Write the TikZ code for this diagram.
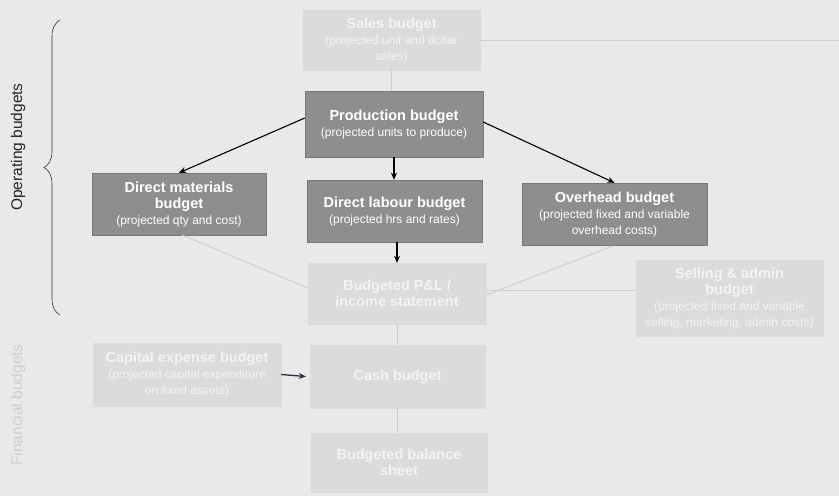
\documentclass[tikz,border=0pt]{standalone}
\usepackage{fontspec}
\setmainfont{Liberation Sans}
\usetikzlibrary{decorations.pathreplacing,arrows.meta}
\definecolor{bg}{HTML}{E9E9E9}
\definecolor{darkbox}{HTML}{8E8E8E}
\definecolor{fadebox}{HTML}{DBDBDB}
\definecolor{fadetext}{HTML}{F3F3F3}
\definecolor{fadeline}{HTML}{CFCFCF}
\definecolor{arrowblue}{HTML}{2A2F4A}
\tikzset{
  darkbb/.style={draw=darkbox!85!black, line width=0.4pt, fill=darkbox, text=white, align=center, inner sep=2pt, font=\fontsize{12}{16}\selectfont},
  fadebb/.style={draw=fadebox, fill=fadebox, text=fadetext, align=center, inner sep=2pt, font=\fontsize{12}{16}\selectfont},
  darrow/.style={-{Stealth[length=7pt,width=6pt]}, line width=1.1pt, black},
  fline/.style={draw=fadeline, line width=1pt},
}
\newcommand{\ttlb}[1]{{\fontsize{14.5}{16}\selectfont\bfseries #1}}
\begin{document}
\begin{tikzpicture}[x=1pt,y=-1pt]
\useasboundingbox (0,0) rectangle (839,496);
\fill[bg] (0,0) rectangle (839,496);
% boxes
\node[fadebb, minimum width=177, minimum height=60] (sales) at (391.5,40) {\ttlb{Sales budget}\\(projected unit and dollar\\sales)};
\node[darkbb, minimum width=178, minimum height=66] (prod) at (394,124) {\ttlb{Production budget}\\(projected units to produce)};
\node[darkbb, minimum width=174, minimum height=62] (mat) at (179,204) {\ttlb{Direct materials}\\\ttlb{budget}\\(projected qty and cost)};
\node[darkbb, minimum width=175, minimum height=62] (lab) at (394.5,211) {\ttlb{Direct labour budget}\\(projected hrs and rates)};
\node[darkbb, minimum width=185, minimum height=62] (ovh) at (614.5,214) {\ttlb{Overhead budget}\\(projected fixed and variable\\overhead costs)};
\node[fadebb, minimum width=178, minimum height=61] (pl) at (397,293.5) {\ttlb{Budgeted P\&L /}\\\ttlb{income statement}};
\node[fadebb, minimum width=187, minimum height=76] (sell) at (729.5,298) {\ttlb{Selling \& admin}\\\ttlb{budget}\\(projected fixed and variable\\selling, marketing, admin costs)};
\node[fadebb, minimum width=188, minimum height=63] (cap) at (187,374.5) {\ttlb{Capital expense budget}\\(projected capital expenditure\\on fixed assets)};
\node[fadebb, minimum width=175, minimum height=63] (cash) at (397.5,376.5) {\ttlb{Cash budget}};
\node[fadebb, minimum width=176, minimum height=59] (bal) at (399,462.5) {\ttlb{Budgeted balance}\\\ttlb{sheet}};
% faint connectors
\coordinate (sr) at (839,40);
\draw[fline] (sales.south) -- (sales.south |- prod.north);
\draw[fline] (sales.east) -- (sr);
\draw[fline] (182,235) -- (pl.west |- 0,288);
\draw[fline] (613,246) -- (pl.east |- 0,295);
\draw[fline] (sell.west |- 0,290) -- (pl.east |- 0,290);
\draw[fline] (pl.south) -- (pl.south |- cash.north);
\draw[fline] (cash.south) -- (cash.south |- bal.north);
% dark arrows
\draw[darrow] (prod.west |- 0,118) -- (mat.north);
\draw[darrow] (prod.south) -- (prod.south |- lab.north);
\draw[darrow] (prod.east |- 0,122) -- (ovh.north);
\draw[darrow] (pl.north |- lab.south) -- (pl.north);
\draw[-{Stealth[length=7pt,width=6pt]}, line width=1.3pt, arrowblue] (cap.east) -- ([xshift=-4pt]cash.west);
% brace
\coordinate (bt) at (60,20);
\coordinate (bb) at (60,315);
\draw[decorate, decoration={brace, amplitude=16pt, aspect=0.5}, line width=0.6pt, black!80] (bb) -- (bt);
\node[rotate=90, font=\fontsize{15.5}{17}\selectfont, text=black!85] (op) at (18,147) {Operating budgets};
\node[rotate=90, font=\fontsize{15.5}{17}\selectfont, text=fadeline] (fin) at (18,405) {Financial budgets};
\end{tikzpicture}
\end{document}
